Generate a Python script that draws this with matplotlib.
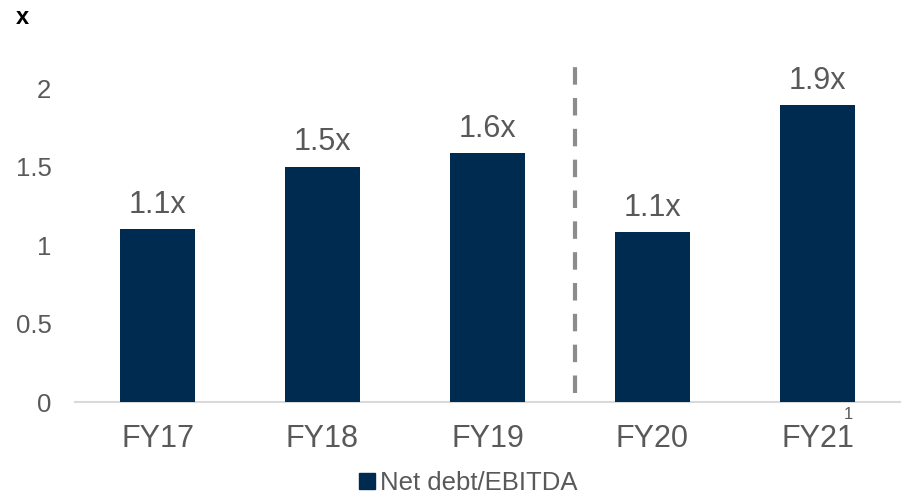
import matplotlib
matplotlib.use("Agg")
import matplotlib.pyplot as plt
from matplotlib.lines import Line2D

categories = ["FY17", "FY18", "FY19", "FY20", "FY21"]
values = [1.10, 1.50, 1.585, 1.08, 1.89]
labels = ["1.1x", "1.5x", "1.6x", "1.1x", "1.9x"]
yticks = [0, 0.5, 1, 1.5, 2]
ytick_labels = ["0", "0.5", "1", "1.5", "2"]
series_name = "Net debt/EBITDA"

plt.rcParams['font.family'] = ['Liberation Sans', 'DejaVu Sans']
navy = "#002B50"
grey_text = "#595959"

fig = plt.figure(figsize=(9.01, 4.96), dpi=100)
ax = fig.add_axes([75/901, (496-402)/496, 825/901, 361/496])

x = list(range(len(categories)))
bars = ax.bar(x, values, width=0.455, color=navy, zorder=3)
ax.bar_label(bars, labels=labels, padding=7, fontsize=22, color=grey_text)

ax.set_xlim(-0.5, len(categories) - 0.5)
ax.set_ylim(0, 2.3)
ax.set_yticks(yticks)
ax.set_yticklabels(ytick_labels)
ax.set_xticks(x)
ax.set_xticklabels(categories)
ax.tick_params(axis='y', length=0, labelsize=18.5, labelcolor=grey_text, pad=17)
ax.tick_params(axis='x', length=0, labelsize=22, labelcolor=grey_text, pad=16)

for s in ['top', 'right', 'left']:
    ax.spines[s].set_visible(False)
ax.spines['bottom'].set_color("#d9d9d9")
ax.spines['bottom'].set_linewidth(1.5)

# separator between historical and later years
ax.axvline(2.53, ymin=0.06/2.3, ymax=2.15/2.3, color="#8c8c8c",
           linewidth=3, linestyle=(0, (4.2, 3.2)), zorder=2)

# superscript footnote marker on FY21
ax.annotate("1", xy=(4, 0), xycoords=('data', 'axes fraction'),
            xytext=(22, -9), textcoords='offset points',
            fontsize=12, color=grey_text, ha='center', va='center')

# unit label
fig.text(16/901, 1 - 18/496, "x", fontsize=17, fontweight='bold',
         color='black', ha='left', va='center')

handle = Line2D([], [], marker='s', linestyle='none', markersize=12,
                markerfacecolor=navy, markeredgecolor=navy)
fig.legend([handle], [series_name], loc='center', bbox_to_anchor=(467/901, 1 - 483/496),
           frameon=False, fontsize=18.5, labelcolor=grey_text, handletextpad=0.1,
           borderpad=0, handlelength=0.8)

fig.savefig("out.png", dpi=100)
